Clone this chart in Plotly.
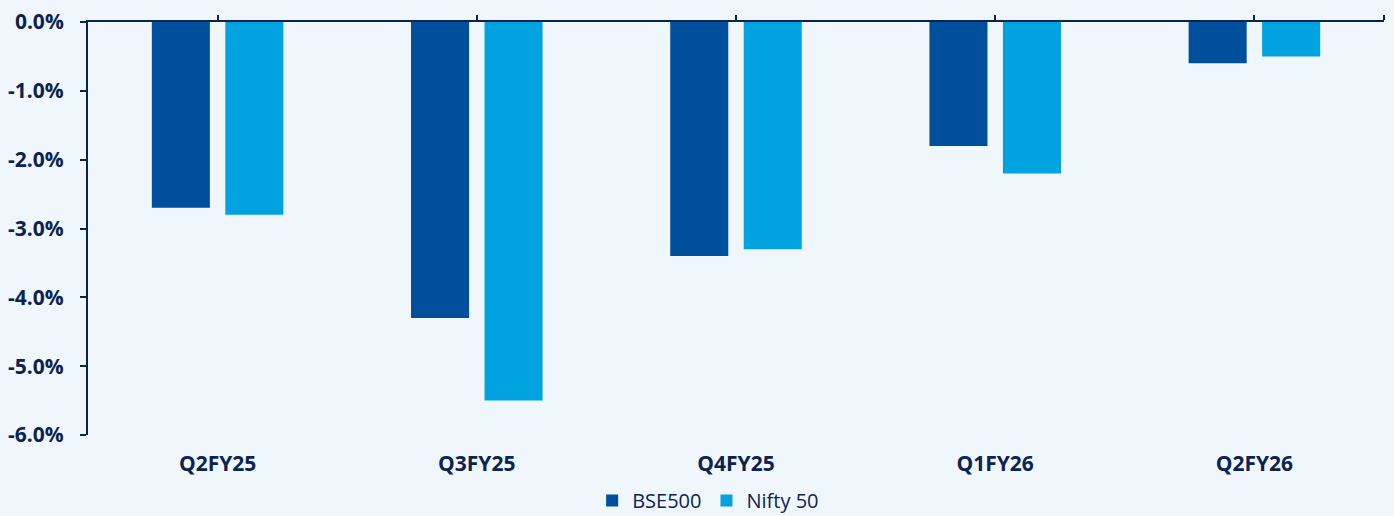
import plotly.graph_objects as go

categories = ["Q2FY25", "Q3FY25", "Q4FY25", "Q1FY26", "Q2FY26"]
bse500 = [-2.7, -4.3, -3.4, -1.8, -0.6]
nifty50 = [-2.8, -5.5, -3.3, -2.2, -0.5]
y_ticks = [0, -1, -2, -3, -4, -5, -6]
y_tick_labels = [f"{v:.1f}%" for v in y_ticks]

navy = "#0c2350"
bg = "#f0f7fc"
font_family = "Open Sans"

fig = go.Figure()
fig.add_trace(go.Bar(x=categories, y=bse500, name="BSE500", marker_color="#004f9c",
                     marker_line_width=0))
fig.add_trace(go.Bar(x=categories, y=nifty50, name="Nifty 50", marker_color="#00a2e0",
                     marker_line_width=0))
# invisible helper trace for top axis (the zero line with tick marks)
fig.add_trace(go.Scatter(x=[-0.5, len(categories) - 0.5], y=[0, 0], xaxis="x2", mode="lines",
                         line=dict(width=0), showlegend=False, hoverinfo="skip"))

fig.update_layout(
    width=1394, height=516,
    paper_bgcolor=bg, plot_bgcolor=bg,
    margin=dict(l=88, r=10, t=22, b=81, pad=0),
    barmode="group", bargap=0.433, bargroupgap=0.21,
    font=dict(family=font_family, color=navy),
    showlegend=True,
    legend=dict(orientation="h", xref="container", yref="container",
                x=0.508, xanchor="center", y=0.068, yanchor="top",
                font=dict(size=20, color=navy, family=font_family),
                itemwidth=30, traceorder="normal", bgcolor="rgba(0,0,0,0)",
                tracegroupgap=0),
    xaxis=dict(type="category", showline=False, ticks="", showgrid=False,
               automargin=False,
               tickfont=dict(size=21, color=navy, family=font_family, weight="bold"),
               ticklabelstandoff=14),
    xaxis2=dict(overlaying="x", side="top", anchor="y", range=[-0.5, len(categories) - 0.5],
                showline=True, linecolor=navy, linewidth=2, automargin=False,
                ticks="outside", ticklen=5, tickwidth=2, tickcolor=navy,
                tickvals=list(range(len(categories))) + [len(categories) - 0.5],
                showticklabels=False, showgrid=False, zeroline=False),
    yaxis=dict(range=[-6, 0], tickvals=y_ticks, ticktext=y_tick_labels,
               showline=True, linecolor=navy, linewidth=2, automargin=False,
               ticks="outside", ticklen=6, tickwidth=2, tickcolor=navy,
               ticklabelstandoff=12,
               showgrid=False, zeroline=False,
               tickfont=dict(size=21, color=navy, family=font_family, weight="bold")),
)

fig.write_html("out.html", config={"displayModeBar": False},
               post_script="document.body.style.margin='0';document.body.style.overflow='hidden';")
